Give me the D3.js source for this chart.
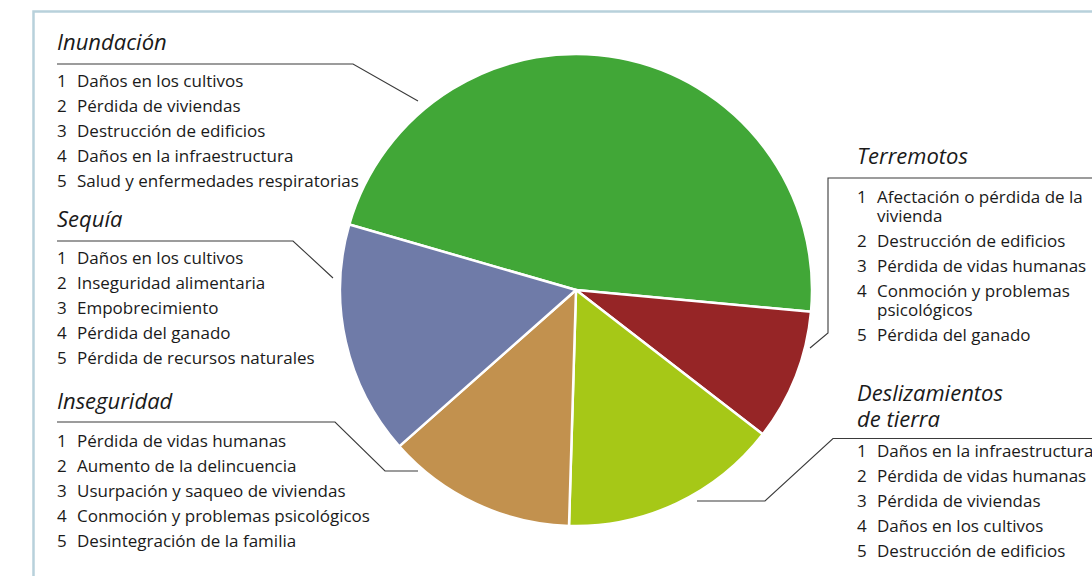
<!DOCTYPE html>
<html><head><meta charset="utf-8">
<script src="https://cdn.jsdelivr.net/npm/d3@7"></script>
<style>
html,body{margin:0;padding:0;background:#fff;}
svg{display:block;}
text{font-family:"Open Sans","Noto Sans",sans-serif;fill:#1a1a1a;}
</style></head>
<body>
<svg id="chart" width="1092" height="576"></svg>
<script>
// ---- data ----
const categories = ["Inundación", "Terremotos", "Deslizamientos de tierra", "Inseguridad", "Sequía"];
const values = [47, 9, 15, 13, 16];
const colors = ["#41a737", "#962526", "#a6c817", "#c2914e", "#6f7ba8"];
const headingLines = [["Inundación"], ["Terremotos"], ["Deslizamientos", "de tierra"], ["Inseguridad"], ["Sequía"]];
const itemsInundacion = [["Daños en los cultivos"], ["Pérdida de viviendas"], ["Destrucción de edificios"], ["Daños en la infraestructura"], ["Salud y enfermedades respiratorias"]];
const itemsTerremotos = [["Afectación o pérdida de la", "vivienda"], ["Destrucción de edificios"], ["Pérdida de vidas humanas"], ["Conmoción y problemas", "psicológicos"], ["Pérdida del ganado"]];
const itemsDeslizamientos = [["Daños en la infraestructura"], ["Pérdida de vidas humanas"], ["Pérdida de viviendas"], ["Daños en los cultivos"], ["Destrucción de edificios"]];
const itemsInseguridad = [["Pérdida de vidas humanas"], ["Aumento de la delincuencia"], ["Usurpación y saqueo de viviendas"], ["Conmoción y problemas psicológicos"], ["Desintegración de la familia"]];
const itemsSequia = [["Daños en los cultivos"], ["Inseguridad alimentaria"], ["Empobrecimiento"], ["Pérdida del ganado"], ["Pérdida de recursos naturales"]];
const itemLists = [itemsInundacion, itemsTerremotos, itemsDeslizamientos, itemsInseguridad, itemsSequia];

// ---- layout ----
const svg = d3.select("#chart");
const cx = 576, cy = 290, R = 236;
const deg = Math.PI / 180;

// frame
svg.append("path")
  .attr("d", "M33.5,576 V11.5 H1092")
  .attr("fill", "none").attr("stroke", "#b8d1db").attr("stroke-width", 2.5);

// pie
const pie = d3.pie().sort(null).value(d => d).startAngle(-73.9 * deg).endAngle(286.1 * deg);
const arc = d3.arc().innerRadius(0).outerRadius(R);
const g = svg.append("g").attr("transform", `translate(${cx},${cy})`);
g.selectAll("path").data(pie(values)).join("path")
  .attr("d", arc)
  .attr("fill", (d, i) => colors[i])
  .attr("stroke", "#fff").attr("stroke-width", 2.5).attr("stroke-linejoin", "round");

// annotation blocks: heading position, baseline of first item, leader path
const blocks = [
  { x: 57, head: 50, first: 87, leader: [[57,64],[353,64],[418,101]] },
  { x: 857, head: 164, first: 203, leader: [[1092,178],[828,178],[828,333],[810,348]] },
  { x: 857, head: 401, first: 457, leader: [[1092,438.5],[833,438.5],[765,501],[697,501]] },
  { x: 57, head: 409, first: 447, leader: [[57,422],[335,422],[385,471],[418,471]] },
  { x: 57, head: 227, first: 264, leader: [[57,241],[293,241],[333,278]] }
];
const itemStep = 25, wrapStep = 18.8, headStep = 26;

blocks.forEach((b, i) => {
  const grp = svg.append("g");
  grp.append("path")
    .attr("d", d3.line()(b.leader))
    .attr("fill", "none").attr("stroke", "#3a3a3a").attr("stroke-width", 1.1);
  const h = grp.append("text").attr("x", b.x).attr("y", b.head)
    .attr("font-size", 22).attr("font-style", "italic");
  headingLines[i].forEach((t, k) => {
    h.append("tspan").attr("x", b.x).attr("dy", k === 0 ? 0 : headStep).text(t);
  });
  let y = b.first;
  itemLists[i].forEach((lines, n) => {
    const t = grp.append("text").attr("x", b.x).attr("y", y).attr("font-size", 17);
    t.append("tspan").text(n + 1);
    lines.forEach((s, k) => {
      t.append("tspan").attr("x", b.x + 20).attr("dy", k === 0 ? 0 : wrapStep).text(s);
      if (k > 0) y += wrapStep;
    });
    y += itemStep;
  });
});
</script>
</body></html>
